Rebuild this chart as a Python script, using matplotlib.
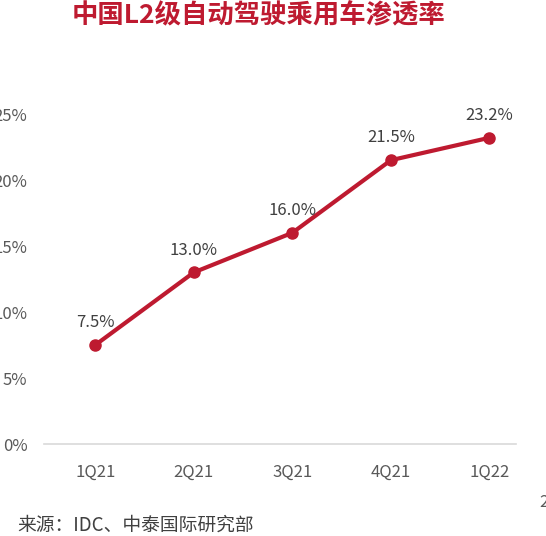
import matplotlib
matplotlib.use('Agg')
import matplotlib.pyplot as plt
from matplotlib.ticker import FuncFormatter

plt.rcParams['font.family'] = ['Noto Sans CJK SC', 'DejaVu Sans']

# L2 penetration rate of passenger cars in China (%)
quarters = ['1Q21', '2Q21', '3Q21', '4Q21', '1Q22']
penetration = [7.5, 13.0, 16.0, 21.5, 23.2]
yticks = [0, 5, 10, 15, 20, 25]

RED = '#BE1A30'
GREY = '#595959'

fig = plt.figure(figsize=(5.46, 5.36), dpi=100)
ax = fig.add_axes([0.0806, 0.1716, 0.8645, 0.6157])

x = list(range(len(quarters)))
ax.plot(x, penetration, color=RED, lw=3, marker='o', ms=8, clip_on=False, zorder=3)
for xi, v in zip(x, penetration):
    ax.annotate('{:.1f}%'.format(v), (xi, v), xytext=(0, 10), textcoords='offset points',
                ha='center', va='bottom', fontsize=12, color='#404040')

ax.set_xlim(-0.52, 4.27)
ax.set_ylim(0, 25)
ax.set_xticks(x)
ax.set_xticklabels(quarters)
ax.set_yticks(yticks)
ax.yaxis.set_major_formatter(FuncFormatter(lambda v, p: '{:d}%'.format(int(v))))
ax.tick_params(axis='both', length=0, labelsize=12, colors=GREY)
ax.tick_params(axis='x', pad=14)
ax.tick_params(axis='y', pad=12)

for s in ['top', 'right', 'left']:
    ax.spines[s].set_visible(False)
ax.spines['bottom'].set_color('#D9D9D9')
ax.spines['bottom'].set_linewidth(1.2)

fig.text(0.474, 0.971, '中国L2级自动驾驶乘用车渗透率', ha='center', va='center',
         fontsize=19, fontweight='bold', color=RED)
fig.text(0.031, 0.021, '来源：IDC、中泰国际研究部', ha='left', va='center',
         fontsize=13.5, color='#404040')
fig.text(0.987, 0.062, '2', ha='left', va='center', fontsize=12, color=GREY)

fig.savefig('out.png', dpi=100)
